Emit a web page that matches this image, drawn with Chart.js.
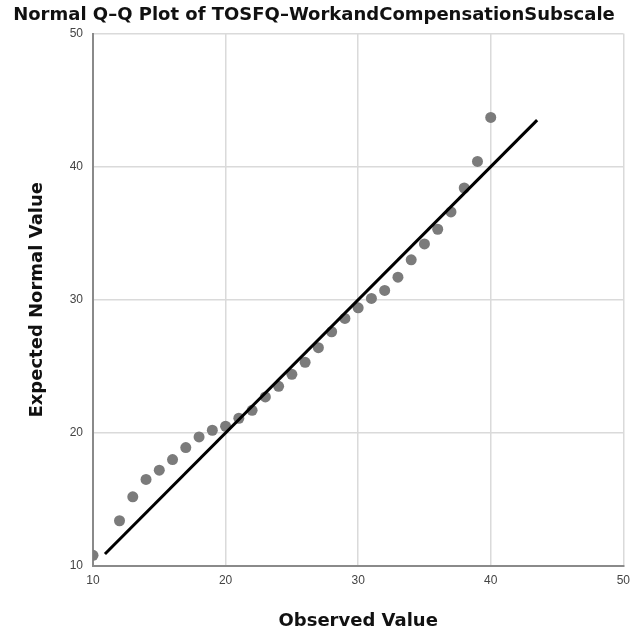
<!DOCTYPE html>
<html>
<head>
<meta charset="utf-8">
<script src="https://cdn.jsdelivr.net/npm/chart.js@4.4.1/dist/chart.umd.min.js"></script>
<style>
  html, body { margin: 0; padding: 0; background: #fff; }
  #wrap { width: 637px; height: 635px; }
</style>
</head>
<body>
<div id="wrap"><canvas id="qq"></canvas></div>
<script>
// observed values and their expected normal values
const observed = [10, 12, 13, 14, 15, 16, 17, 18, 19, 20, 21, 22, 23, 24, 25, 26, 27, 28, 29, 30, 31, 32, 33, 34, 35, 36, 37, 38, 39, 40];
const expected = [10.8, 13.4, 15.2, 16.5, 17.2, 18.0, 18.9, 19.7, 20.2, 20.5, 21.1, 21.7, 22.7, 23.5, 24.4, 25.3, 26.4, 27.6, 28.6, 29.4, 30.1, 30.7, 31.7, 33.0, 34.2, 35.3, 36.6, 38.4, 40.4, 43.7];
// reference line y = x, its two ends
const lineEnds = [10.9, 43.5];
const ticks = [10, 20, 30, 40, 50];

const pts = observed.map((v, i) => ({ x: v, y: expected[i] }));
const linePts = lineEnds.map(v => ({ x: v, y: v }));

const font = "'Liberation Sans', Arial, sans-serif";
const titleFont = "'DejaVu Sans', sans-serif";

new Chart(document.getElementById('qq'), {
  type: 'scatter',
  data: {
    datasets: [
      {
        type: 'line',
        data: linePts,
        borderColor: '#000',
        borderWidth: 3,
        pointRadius: 0,
        fill: false
      },
      {
        data: pts,
        backgroundColor: '#7b7b7b',
        borderWidth: 0,
        pointRadius: 5.5
      }
    ]
  },
  options: {
    responsive: true,
    maintainAspectRatio: false,
    animation: false,
    layout: { padding: { left: 0, right: 9, top: 0, bottom: 0 } },
    plugins: {
      legend: { display: false },
      tooltip: { enabled: false },
      title: {
        display: true,
        text: 'Normal Q\u2013Q Plot of TOSFQ\u2013WorkandCompensationSubscale',
        color: '#111',
        font: { family: titleFont, size: 18, weight: 'bold' },
        padding: { top: 5, bottom: 7 }
      }
    },
    scales: {
      x: {
        type: 'linear',
        min: 10, max: 50,
        afterBuildTicks: s => { s.ticks = ticks.map(v => ({ value: v })); },
        afterFit: s => { s.height = 69; },
        grid: { color: '#dadada', lineWidth: 1.5, drawTicks: false },
        border: { color: '#8a8a8a', width: 2 },
        ticks: { color: '#444', font: { family: font, size: 12 }, padding: 7 },
        title: {
          display: true, text: 'Observed Value', color: '#111',
          font: { family: titleFont, size: 18, weight: 'bold' },
          padding: { top: 0, bottom: 3 }
        }
      },
      y: {
        type: 'linear',
        min: 10, max: 50,
        afterBuildTicks: s => { s.ticks = ticks.map(v => ({ value: v })); },
        afterFit: s => { s.width = 93; },
        grid: { color: '#dadada', lineWidth: 1.5, drawTicks: false },
        border: { color: '#8a8a8a', width: 2 },
        ticks: { color: '#444', font: { family: font, size: 12 }, padding: 10 },
        title: {
          display: true, text: 'Expected Normal Value', color: '#111',
          font: { family: titleFont, size: 18, weight: 'bold' },
          padding: { top: 27, bottom: 0 }
        }
      }
    }
  }
});
</script>
</body>
</html>
